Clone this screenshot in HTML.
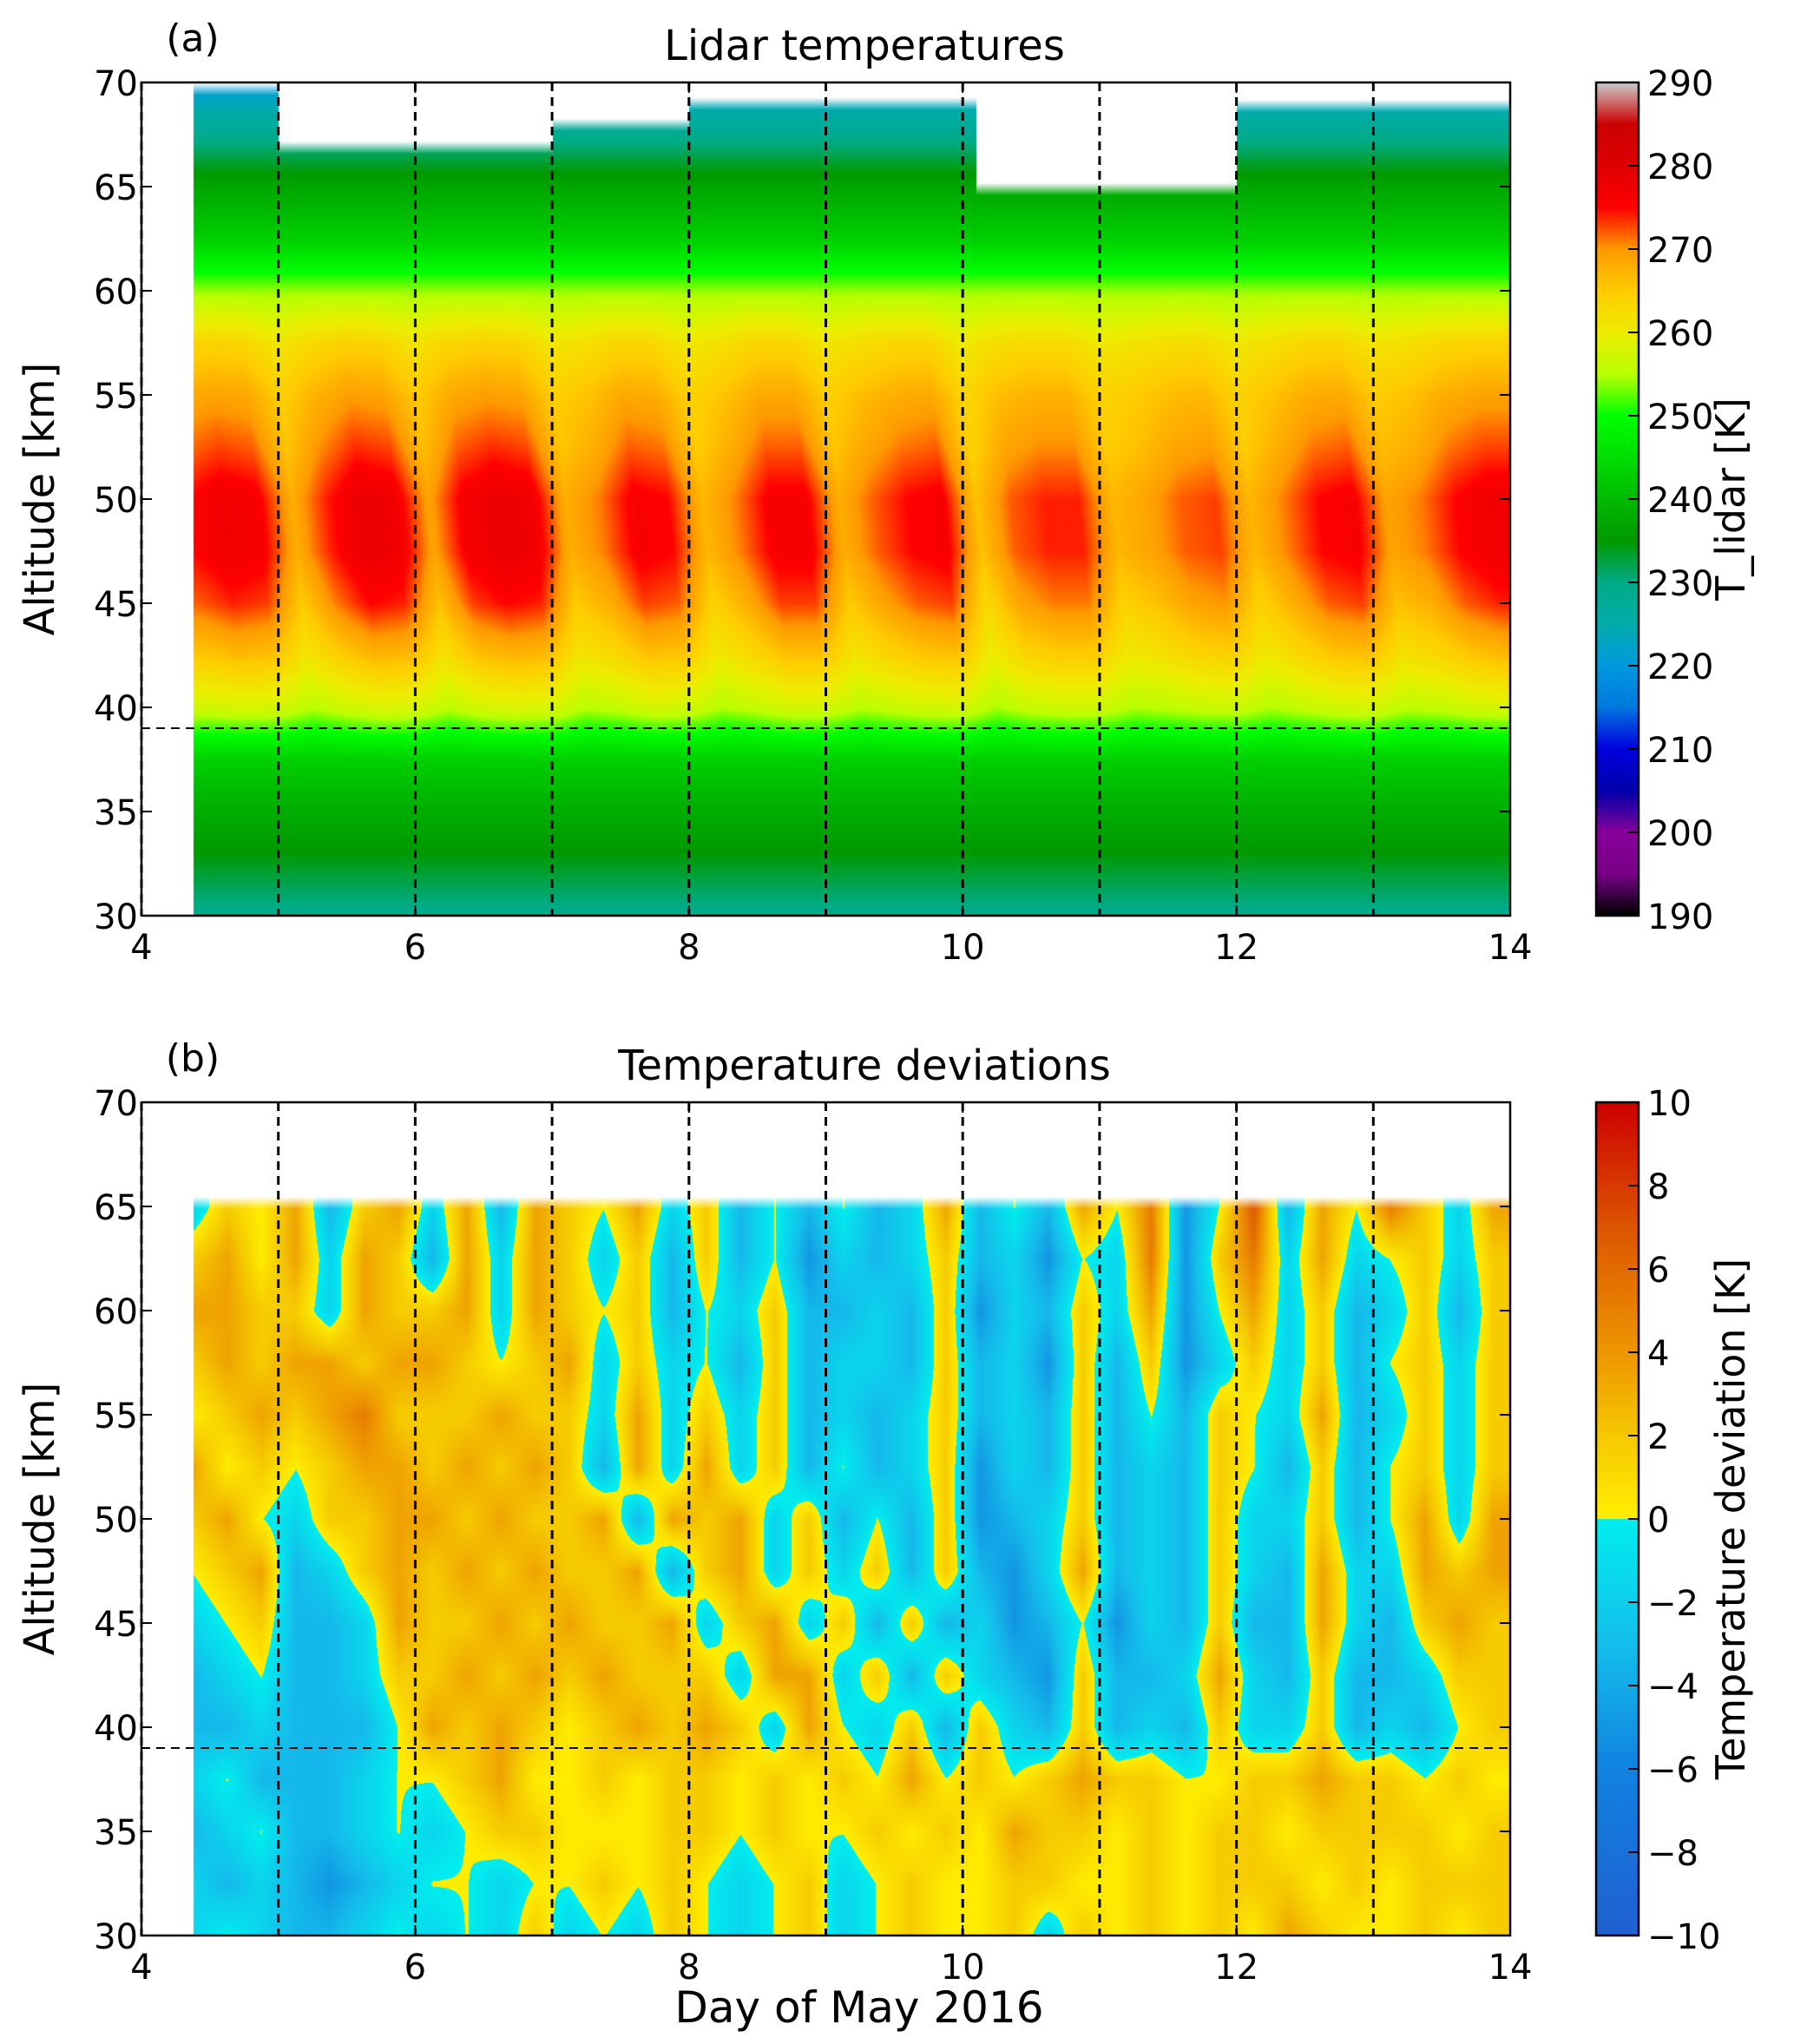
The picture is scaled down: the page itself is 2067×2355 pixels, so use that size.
<!DOCTYPE html>
<html><head><meta charset="utf-8"><style>
body{margin:0;background:#fff;}
#wrap{position:relative;width:2067px;height:2355px;overflow:hidden;background:#fff;font-family:"Liberation Sans",sans-serif;}
canvas{position:absolute;}
svg{position:absolute;left:0;top:0;}
</style></head><body>
<div id="wrap">
<canvas id="ca" width="1577" height="960" style="left:163px;top:95px"></canvas>
<canvas id="cb" width="1577" height="960" style="left:163px;top:1270px"></canvas>
<canvas id="cba" width="49" height="960" style="left:1839px;top:95px"></canvas>
<canvas id="cbb" width="49" height="960" style="left:1839px;top:1270px"></canvas>
<svg id="ov" width="2067" height="2355"></svg>
</div>
<script>
// ---- data ----
const xTicks=[4,6,8,10,12,14];
const yTicks=[30,35,40,45,50,55,60,65,70];
const dayLines=[4,5,6,7,8,9,10,11,12,13];
const hLineAlt=39;
const tStart=4.375, tStep=0.25;
// panel a
const profileAlts=[30,32.5,35,37.5,40,42.5,45,47.5,50,52.5,55,57.5,60,62.5,65,67.5,70];
const profileT=[229,234,238,243,256,263,268,271,271,268,266,262,254,243,237,229,220];
const rowWeight=[0,0,0,0,0.3,0.6,1,1,1,0.8,0.5,0.3,0,0,0,0,0];
const colAnom=[4,6,5,-3,3,7,6,-2,5,7,6,-3,0,5,4,-4,0,5,5,-3,1,4,5,-5,1,3,3,-4,-2,1,2,-4,0,4,5,-2,0,4,6];
const segStart=[4.375,5.0,7.0,8.0,10.1,12.0];
const segEnd=[5.0,7.0,8.0,10.1,12.0,14.0];
const segTop=[70,67.2,68.3,69.3,65.2,69.2];
// panel b (rows top 65 -> bottom 30, step 2.5; digit d -> value (d-offset)*scale)
const devAlts=[65,62.5,60,57.5,55,52.5,50,47.5,45,42.5,40,37.5,35,32.5,30];
const devRows=[
"465736747376574635353473537582593758647",
"675747637476463635243463425482684745646",
"776647667476563546334362436472574634636",
"676776776567464536344363426362464635646",
"567678666766474646343463436353654734646",
"756567767676374746353462436343653635646",
"675466776766737674635362346343644635747",
"567346767676673674646363247343643744767",
"456334766767667467463634235243633743676",
"345334667676766647746364326334743633466",
"334333576765676764754636436343644634356",
"453334556755656656565756567665566766565",
"345334545665556656556565766565665666656",
"434323455455656545645655665565666565666",
"454334545464546545645655646565657655656"];
const devOffset=4.95;
const devScale=1.7;
const devTop=65.5;
const tempTicks=[190,200,210,220,230,240,250,260,270,280,290];
const devTicks=[-10,-8,-6,-4,-2,0,2,4,6,8,10];

// ---- scales ----
const X0=163,X1=1740,W=1577,H=960,TA=95,TB=1270;
const xs=t=>X0+(t-4)/10*W;
const ys=(a,top)=>top+(70-a)/40*H;

// ---- colormaps ----
const spec=[[0,0,0],[.47,0,.53],[.53,0,.6],[0,0,.67],[0,0,.87],[0,.47,.87],[0,.6,.87],[0,.67,.67],[0,.67,.53],[0,.6,0],[0,.73,0],[0,.87,0],[0,1,0],[.73,1,0],[.93,.93,0],[1,.8,0],[1,.6,0],[1,0,0],[.87,0,0],[.8,0,0],[.8,.8,.8]];
function cmapA(v){let f=(v-190)/100;f=Math.max(0,Math.min(1,f))*20;let i=Math.min(19,Math.floor(f)),r=f-i;const a=spec[i],b=spec[i+1];return [0,1,2].map(k=>255*(a[k]+(b[k]-a[k])*r));}
const devStops=[[-10,[32,96,208]],[-6,[16,130,224]],[-3,[20,190,235]],[0,[0,238,238]],[2,[245,200,0]],[4,[238,150,0]],[7,[220,85,0]],[10,[204,0,0]]];
function cmapB(v){v=Math.max(-10,Math.min(10,v));if(v>=0){if(v<2){const r=v/2;return [255-10*r,238-38*r,0];}
 for(let i=4;i<devStops.length-1;i++){const[a,ca]=devStops[i],[b,cb]=devStops[i+1];if(v<=b){const r=(v-a)/(b-a);return [0,1,2].map(k=>ca[k]+(cb[k]-ca[k])*r);}}return devStops[devStops.length-1][1];}
 for(let i=0;i<3;i++){const[a,ca]=devStops[i],[b,cb]=devStops[i+1];if(v<=b){const r=(v-a)/(b-a);return [0,1,2].map(k=>ca[k]+(cb[k]-ca[k])*r);}}return devStops[3][1];}

function colInterp(arr,t){let f=(t-tStart)/tStep;f=Math.max(0,Math.min(arr.length-1,f));let i=Math.min(arr.length-2,Math.floor(f));const r=f-i;return arr[i]+(arr[i+1]-arr[i])*r;}
function segTopAt(t){for(let i=0;i<segStart.length;i++)if(t>=segStart[i]&&t<segEnd[i])return segTop[i];return 70;}

// panel a
(function(){const c=document.getElementById('ca'),ctx=c.getContext('2d'),im=ctx.createImageData(W,H),d=im.data;
for(let px=0;px<W;px++){const t=4+px/W*10;if(t<tStart)continue;const top=segTopAt(t);
for(let py=0;py<H;py++){const a=70-py/H*40;if(a>top)continue;let f=(a-30)/2.5,i=Math.min(15,Math.floor(f)),r=f-i;
const an=colInterp(colAnom,t+(a-48)*0.015);
const base=profileT[i]+(profileT[i+1]-profileT[i])*r,w=rowWeight[i]+(rowWeight[i+1]-rowWeight[i])*r;
const col=cmapA(base+an*w);const o=(py*W+px)*4;const al=Math.min(1,(top-a)/0.6);
d[o]=col[0]*al+255*(1-al);d[o+1]=col[1]*al+255*(1-al);d[o+2]=col[2]*al+255*(1-al);d[o+3]=255;}}
ctx.putImageData(im,0,0);})();
// panel b
(function(){const c=document.getElementById('cb'),ctx=c.getContext('2d'),im=ctx.createImageData(W,H),d=im.data;
const grid=devRows.map(s=>s.split('').map(ch=>(parseInt(ch)-devOffset)*devScale));
for(let px=0;px<W;px++){const t=4+px/W*10;if(t<tStart)continue;let fc=(t-tStart)/tStep;fc=Math.max(0,Math.min(38,fc));const ci=Math.min(37,Math.floor(fc)),cr=fc-ci;
for(let py=0;py<H;py++){const a=70-py/H*40;if(a>devTop)continue;let fr=(65-a)/2.5;fr=Math.max(0,Math.min(14,fr));const ri=Math.min(13,Math.floor(fr)),rr=fr-ri;
const g=(r,c)=>{const row=grid[r];return row[Math.min(row.length-1,c)];};
const v=(g(ri,ci)*(1-cr)+g(ri,ci+1)*cr)*(1-rr)+(g(ri+1,ci)*(1-cr)+g(ri+1,ci+1)*cr)*rr;
const col=cmapB(v);const o=(py*W+px)*4;const al=Math.min(1,(devTop-a)/0.6);
d[o]=col[0]*al+255*(1-al);d[o+1]=col[1]*al+255*(1-al);d[o+2]=col[2]*al+255*(1-al);d[o+3]=255;}}
ctx.putImageData(im,0,0);})();
// colorbars
function drawBar(id,fn,lo,hi){const c=document.getElementById(id),ctx=c.getContext('2d');for(let py=0;py<960;py++){const v=hi-(py+0.5)/960*(hi-lo);const col=fn(v);ctx.fillStyle=`rgb(${col.map(Math.round).join(',')})`;ctx.fillRect(0,py,49,1);}}
drawBar('cba',cmapA,190,290);drawBar('cbb',cmapB,-10,10);

// ---- overlay ----
const ov=document.getElementById('ov');const NS='http://www.w3.org/2000/svg';
function el(tag,attrs,txt){const e=document.createElementNS(NS,tag);for(const k in attrs)e.setAttribute(k,attrs[k]);if(txt!==undefined)e.textContent=txt;ov.appendChild(e);return e;}
function txt(x,y,s,size,anchor,name,rot){const e=el('text',{x:x,y:y,'font-size':size,'text-anchor':anchor||'middle','font-family':'DejaVu Sans, Liberation Sans, sans-serif',fill:'#000'},s);if(rot)e.setAttribute('transform',`rotate(-90 ${x} ${y})`);


return e;}
function panel(top,label,title){
 dayLines.forEach(dl=>{const l=el('line',{x1:xs(dl),x2:xs(dl),y1:top,y2:top+H,stroke:'#000','stroke-width':3,'stroke-dasharray':'10,7'});
 
 });
 const h=el('line',{x1:X0,x2:X1,y1:ys(hLineAlt,top),y2:ys(hLineAlt,top),stroke:'#000','stroke-width':2,'stroke-dasharray':'10,7'});
 
 
 const r=el('rect',{x:X0,y:top,width:W,height:H,fill:'none',stroke:'#000','stroke-width':2.5});
 
 
 yTicks.forEach(v=>{const y=ys(v,top);el('line',{x1:X0,x2:X0+12,y1:y,y2:y,stroke:'#000','stroke-width':2});el('line',{x1:X1-12,x2:X1,y1:y,y2:y,stroke:'#000','stroke-width':2});txt(X0-4,y+15,String(v),40,'end','y-tick-label');});
 xTicks.forEach(v=>{const x=xs(v);el('line',{x1:x,x2:x,y1:top+H-12,y2:top+H,stroke:'#000','stroke-width':2});el('line',{x1:x,x2:x,y1:top,y2:top+12,stroke:'#000','stroke-width':2});txt(x,top+H+50,String(v),40,'middle','x-tick-label');});
 txt(62,top+H/2,'Altitude [km]',48,'middle','y-axis-title',true);
 txt(222,top-36,label,44,'middle','panel-label');
 txt(996,top-26,title,48,'middle','panel-title');
}
panel(TA,'(a)','Lidar temperatures');
panel(TB,'(b)','Temperature deviations');
function cbar(top,ticks,lo,hi,lab){const r=el('rect',{x:1839,y:top,width:49,height:960,fill:'none',stroke:'#000','stroke-width':2.5});
 
 
 ticks.forEach(v=>{const y=top+(hi-v)/(hi-lo)*960;el('line',{x1:1876,x2:1888,y1:y,y2:y,stroke:'#000','stroke-width':2});txt(1898,y+15,String(v).replace('-','\u2212'),40,'start','colorbar-tick-label');});
 txt(2010,top+480,lab,46,'middle','colorbar-title',true);}
cbar(TA,tempTicks,190,290,'T_lidar [K]');
cbar(TB,devTicks,-10,10,'Temperature deviation [K]');
txt(990,2330,'Day of May 2016',50,'middle','x-axis-title');
</script>
</body></html>
